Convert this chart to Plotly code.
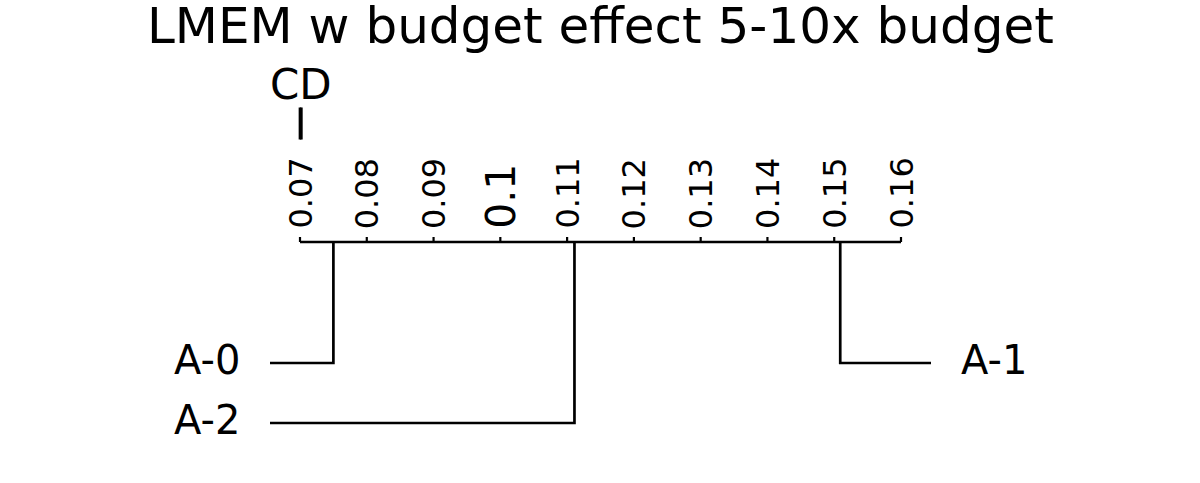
import plotly.graph_objects as go

# ---------------- data ----------------
title_text = "LMEM w budget effect 5-10x budget"
left_methods = ["A-0", "A-2"]
left_scores = [0.0750, 0.1111]
right_methods = ["A-1"]
right_scores = [0.1509]
tick_values = [0.07, 0.08, 0.09, 0.10, 0.11, 0.12, 0.13, 0.14, 0.15, 0.16]
tick_labels = ["0.07", "0.08", "0.09", "0.1", "0.11", "0.12", "0.13", "0.14", "0.15", "0.16"]
cd_value = 0.0002

# ---------------- layout constants ----------------
W, H = 1200, 483
lo, hi = tick_values[0], tick_values[-1]
ppu = 601 / (hi - lo)           # pixels per unit
x_left_px = 300                 # pixel position of lo
x_range = [lo - x_left_px / ppu, lo + (W - x_left_px) / ppu]
axis_y = 242
row_y0 = 363
row_step = 60
side_off = 30 / ppu
label_gap = 28 / ppu
LW = 2.7
FONT = "DejaVu Sans"
BLACK = "#000000"

fig = go.Figure()

def line(xs, ys, w=LW):
    fig.add_trace(go.Scatter(x=xs, y=ys, mode="lines",
                             line=dict(color=BLACK, width=w),
                             hoverinfo="skip", showlegend=False))

# axis line
line([lo, hi], [axis_y, axis_y])
# tick marks
for tv in tick_values:
    line([tv, tv], [axis_y, axis_y - 5], w=2.2)

annotations = []
for tv, tl in zip(tick_values, tick_labels):
    size = 41 if tl == "0.1" else 32
    annotations.append(dict(x=tv, y=axis_y - 11, xref="x", yref="y",
                            text=tl, showarrow=False, textangle=-90,
                            xanchor="center", yanchor="bottom",
                            font=dict(family=FONT, size=size, color=BLACK)))

# left methods
for i, (m, s) in enumerate(zip(left_methods, left_scores)):
    yy = row_y0 + i * row_step
    line([s, s, lo - side_off], [axis_y, yy, yy])
    annotations.append(dict(x=lo - side_off - label_gap, y=yy - 3, xref="x", yref="y",
                            text=m, showarrow=False, xanchor="right", yanchor="middle",
                            font=dict(family=FONT, size=40, color=BLACK)))
# right methods
for i, (m, s) in enumerate(zip(right_methods, right_scores)):
    yy = row_y0 + i * row_step
    line([s, s, hi + side_off], [axis_y, yy, yy])
    annotations.append(dict(x=hi + side_off + label_gap, y=yy - 3, xref="x", yref="y",
                            text=m, showarrow=False, xanchor="left", yanchor="middle",
                            font=dict(family=FONT, size=40, color=BLACK)))

# CD bar
cd_y = 123.5
line([lo, lo + cd_value], [cd_y, cd_y])
line([lo, lo], [cd_y - 16, cd_y + 16])
line([lo + cd_value, lo + cd_value], [cd_y - 16, cd_y + 16])
annotations.append(dict(x=lo + cd_value / 2, y=84, xref="x", yref="y",
                        text="CD", showarrow=False, xanchor="center", yanchor="middle",
                        font=dict(family=FONT, size=42, color=BLACK)))

# title
annotations.append(dict(x=0.5, y=26, xref="paper", yref="y",
                        text=title_text, showarrow=False, xanchor="center", yanchor="middle",
                        font=dict(family=FONT, size=50, color=BLACK)))

fig.update_layout(
    width=W, height=H,
    margin=dict(l=0, r=0, t=0, b=0),
    paper_bgcolor="white", plot_bgcolor="white",
    xaxis=dict(range=x_range, visible=False, fixedrange=True),
    yaxis=dict(range=[H, 0], visible=False, fixedrange=True),
    annotations=annotations,
    showlegend=False,
)

fig.write_html("out.html", config={"displayModeBar": False})
